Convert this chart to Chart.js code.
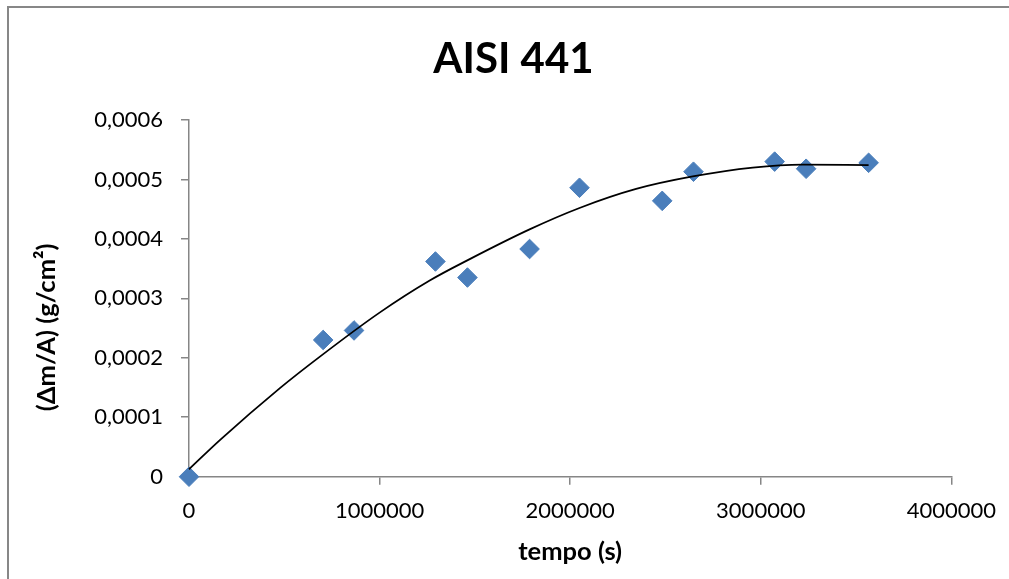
<!DOCTYPE html>
<html><head><meta charset="utf-8">
<style>
html,body{margin:0;padding:0;background:#fff;overflow:hidden;}
#wrap{position:relative;width:1009px;height:579px;overflow:hidden;}
#frame{position:absolute;left:7px;top:6px;width:1030px;height:620px;border:2px solid #878787;box-sizing:border-box;}
canvas{position:absolute;left:0;top:0;}
</style>
<script src="https://cdn.jsdelivr.net/npm/chart.js@4/dist/chart.umd.min.js"></script>
</head><body>
<div id="wrap"><div id="frame"></div><canvas id="c" width="1009" height="579"></canvas></div>
<script>
const chartTitle = 'AISI 441';
const xAxisTitle = 'tempo (s)';
const yAxisTitle = '(Δm/A) (g/cm²)';
const timeSeconds = [0, 704000, 866000, 1293000, 1461000, 1787000, 2049000, 2483000, 2647000, 3073000, 3238000, 3566000];
const massGain = [0, 0.000230, 0.000246, 0.000362, 0.000335, 0.000383, 0.000486, 0.000464, 0.000513, 0.000530, 0.000518, 0.000528];
const trendTime = [0, 162000, 477000, 687000, 1000000, 1263000, 1473000, 1787000, 2049000, 2346000, 2643000, 2958000, 3220000, 3566000];
const trendValue = [0.0000125, 0.0000615, 0.000149, 0.000202, 0.000276, 0.000330, 0.000366, 0.000416, 0.000452, 0.000484, 0.000505, 0.000520, 0.000525, 0.000524];
const xTickValues = [0, 1000000, 2000000, 3000000, 4000000];
const xTickLabels = ['0', '1000000', '2000000', '3000000', '4000000'];
const yTickValues = [0, 0.0001, 0.0002, 0.0003, 0.0004, 0.0005, 0.0006];
const yTickLabels = ['0', '0,0001', '0,0002', '0,0003', '0,0004', '0,0005', '0,0006'];

const FONT = 'Lato';
const AXIS_GRAY = '#868686';

const extraText = {
  id: 'extraText',
  afterDraw(chart) {
    const ctx = chart.ctx;
    const a = chart.chartArea;
    ctx.save();
    ctx.fillStyle = '#000';
    ctx.textAlign = 'center';
    ctx.textBaseline = 'middle';
    ctx.font = 'bold 42px ' + FONT;
    ctx.fillText(chartTitle, chart.width / 2 + 9, 59);
    ctx.translate(47, (a.top + a.bottom) / 2 + 29);
    ctx.rotate(-Math.PI / 2);
    ctx.font = 'bold 25.5px ' + FONT;
    ctx.fillText(yAxisTitle, 0, 0);
    ctx.restore();
  }
};

new Chart(document.getElementById('c'), {
  type: 'scatter',
  data: {
    datasets: [
      {
        label: 'trend',
        type: 'line',
        data: trendTime.map((t, i) => ({x: t, y: trendValue[i]})),
        borderColor: '#000',
        borderWidth: 1.8,
        pointRadius: 0,
        fill: false,
        cubicInterpolationMode: 'monotone',
        clip: false,
        order: 0
      },
      {
        label: 'AISI 441',
        data: timeSeconds.map((t, i) => ({x: t, y: massGain[i]})),
        pointStyle: 'rectRot',
        pointRadius: 9.8,
        backgroundColor: '#4A7EBB',
        borderColor: '#4A7EBB',
        borderWidth: 1,
        clip: false,
        order: 1
      }
    ]
  },
  options: {
    responsive: false,
    animation: false,
    devicePixelRatio: 1,
    layout: {padding: {left: 0, right: 56.7, top: 120, bottom: 0}},
    plugins: {legend: {display: false}, tooltip: {enabled: false}, title: {display: false}},
    scales: {
      x: {
        type: 'linear',
        min: 0, max: 4000000,
        afterBuildTicks: s => { s.ticks = xTickValues.map(v => ({value: v})); },
        afterFit: s => { s.height = 579 - 476.7; },
        ticks: {
          callback: (v, i) => xTickLabels[i],
          font: {family: FONT, size: 22},
          color: '#000',
          padding: 13,
          maxRotation: 0,
          autoSkip: false
        },
        grid: {drawOnChartArea: false, drawTicks: true, tickLength: 8, color: AXIS_GRAY, lineWidth: 1.5},
        border: {color: AXIS_GRAY, width: 1.5},
        title: {display: true, text: xAxisTitle, font: {family: FONT, size: 25.5, weight: 'bold'}, color: '#000', padding: {top: 0, bottom: 12}}
      },
      y: {
        type: 'linear',
        min: 0, max: 0.0006,
        afterBuildTicks: s => { s.ticks = yTickValues.map(v => ({value: v})); },
        afterFit: s => { s.width = 189; },
        ticks: {
          callback: (v, i) => yTickLabels[i],
          font: {family: FONT, size: 22},
          color: '#000',
          padding: 18,
          autoSkip: false
        },
        grid: {drawOnChartArea: false, drawTicks: true, tickLength: 8, color: AXIS_GRAY, lineWidth: 1.5},
        border: {color: AXIS_GRAY, width: 1.5}
      }
    }
  },
  plugins: [extraText]
});
</script>
</body></html>
